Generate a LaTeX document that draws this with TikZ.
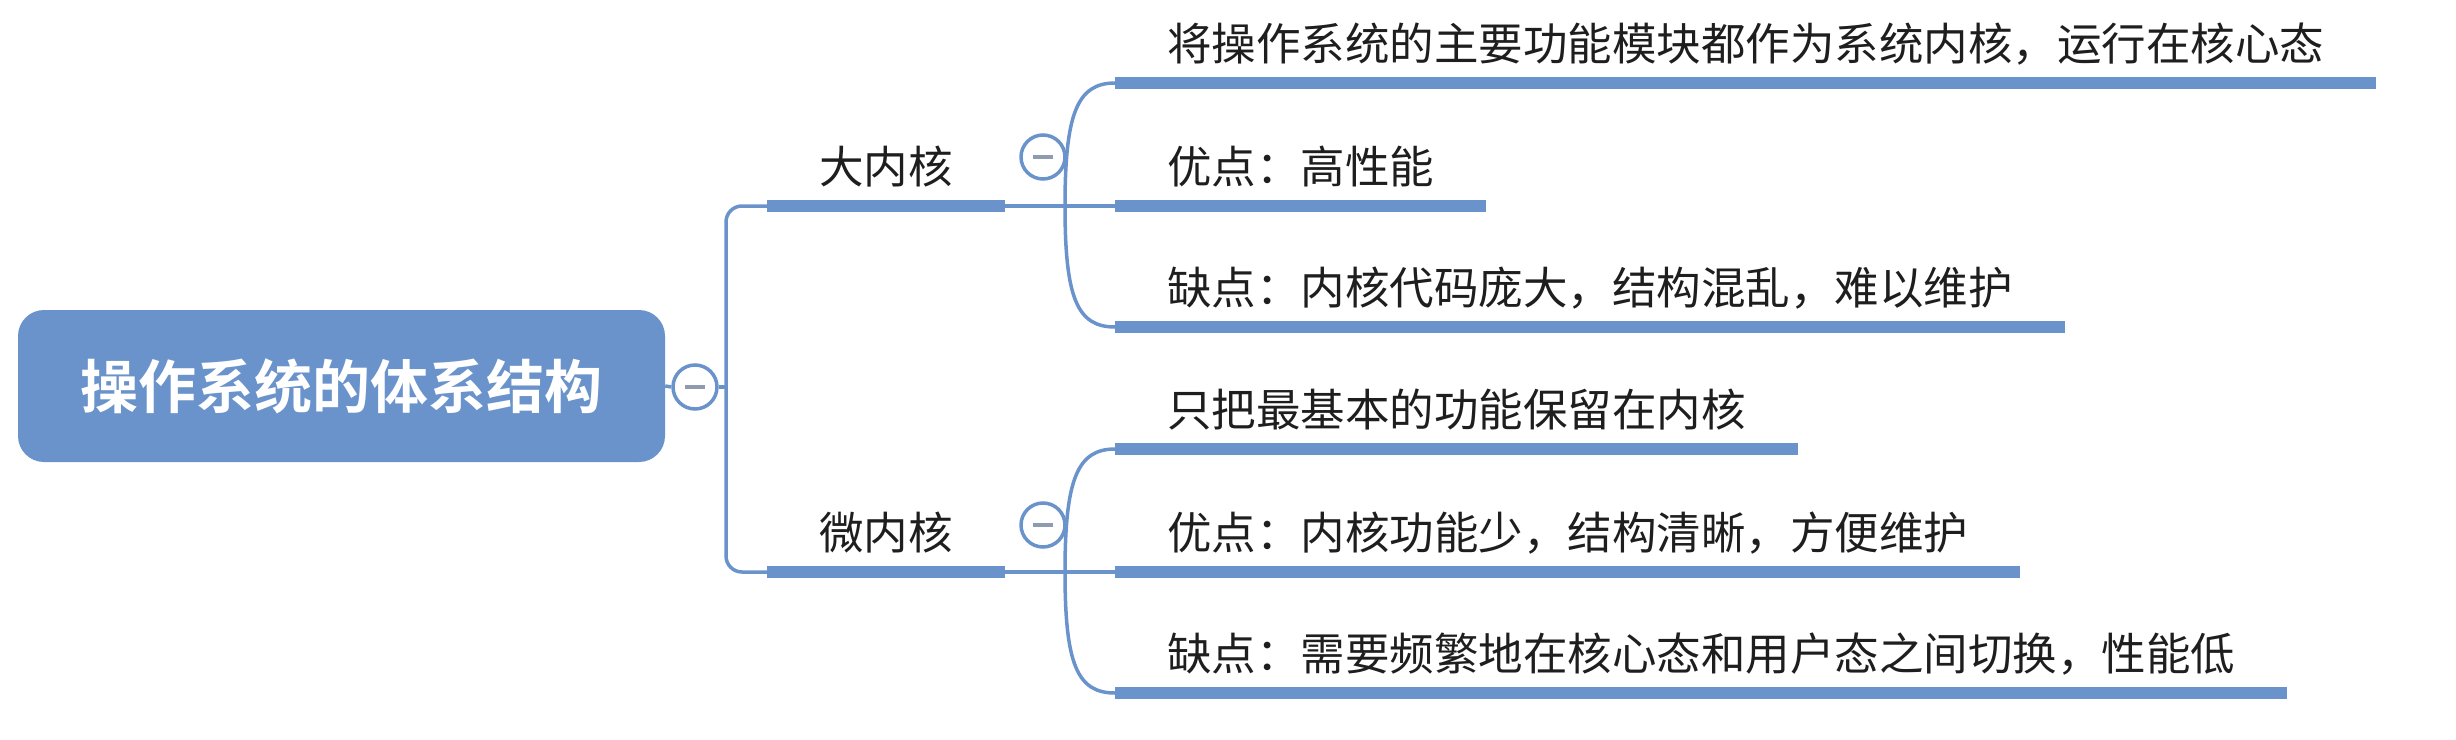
\documentclass[tikz,border=0pt]{standalone}
\usepackage{fontspec}
\newfontfamily\cjk[BoldFont={Noto Sans CJK SC Bold}]{Noto Sans CJK SC}
\usetikzlibrary{calc}
\definecolor{mapblue}{HTML}{6A93CB}
\definecolor{foldgray}{HTML}{8E9BB0}
\definecolor{inktext}{HTML}{1E1E1E}

\begin{document}
\begin{tikzpicture}[x=1pt, y=-1pt,
  rootbox/.style={fill=mapblue, rounded corners=26pt, minimum width=647pt, minimum height=152pt, inner sep=0pt, text=white, font=\cjk\bfseries\fontsize{58}{64}\selectfont},
  topic/.style={anchor=south west, inner xsep=52pt, inner ysep=21pt, text height=0.88em, text depth=0.12em, text=inktext, font=\cjk\fontsize{44.5}{52}\selectfont},
  uline/.style={draw=mapblue, line width=12pt},
  link/.style={draw=mapblue, line width=3.5pt},
  fold/.style={circle, draw=mapblue, line width=3.5pt, fill=white, minimum size=44pt, inner sep=0pt}]
\useasboundingbox (0,0) rectangle (2456,739);

% 中心主题
\node[rootbox] (root) at (341.5,386) {操作系统的体系结构};
\node[fold] (rc) at (695,387) {\color{foldgray}\rule{20pt}{3.5pt}};
\coordinate (jr) at (726,387);

% 分支主题
\node[topic] (b1) at (767,206) {大内核};
\node[topic] (b2) at (767,572) {微内核};
\node[fold] (bc1) at (1043,157) {\color{foldgray}\rule{20pt}{3.5pt}};
\node[fold] (bc2) at (1043,525) {\color{foldgray}\rule{20pt}{3.5pt}};
\coordinate (j1) at (1065,206);
\coordinate (j2) at (1065,572);

% 大内核的子主题
\node[topic] (l1) at (1115,83) {将操作系统的主要功能模块都作为系统内核，运行在核心态};
\node[topic] (l2) at (1115,206) {优点：高性能};
\node[topic] (l3) at (1115,327) {缺点：内核代码庞大，结构混乱，难以维护};

% 微内核的子主题
\node[topic] (l4) at (1115,449) {只把最基本的功能保留在内核};
\node[topic] (l5) at (1115,572) {优点：内核功能少，结构清晰，方便维护};
\node[topic] (l6) at (1115,693) {缺点：需要频繁地在核心态和用户态之间切换，性能低};

% 下划线
\foreach \n in {b1,b2,l1,l2,l3,l4,l5,l6}
  \draw[uline] (\n.south west) -- (\n.south east);

% 连接线
\draw[link] (root.east) -- (rc.west);
\draw[link] (rc.east) -- (jr);
\draw[link, rounded corners=16pt] (jr) |- (b1.south west);
\draw[link, rounded corners=16pt] (jr) |- (b2.south west);
\draw[link] (b1.south east) -- (l2.south west);
\draw[link] (j1) .. controls +(0,-92) and +(-38,0) .. (l1.south west);
\draw[link] (j1) .. controls +(0,92) and +(-38,0) .. (l3.south west);
\draw[link] (b2.south east) -- (l5.south west);
\draw[link] (j2) .. controls +(0,-92) and +(-38,0) .. (l4.south west);
\draw[link] (j2) .. controls +(0,92) and +(-38,0) .. (l6.south west);
\end{tikzpicture}
\end{document}
